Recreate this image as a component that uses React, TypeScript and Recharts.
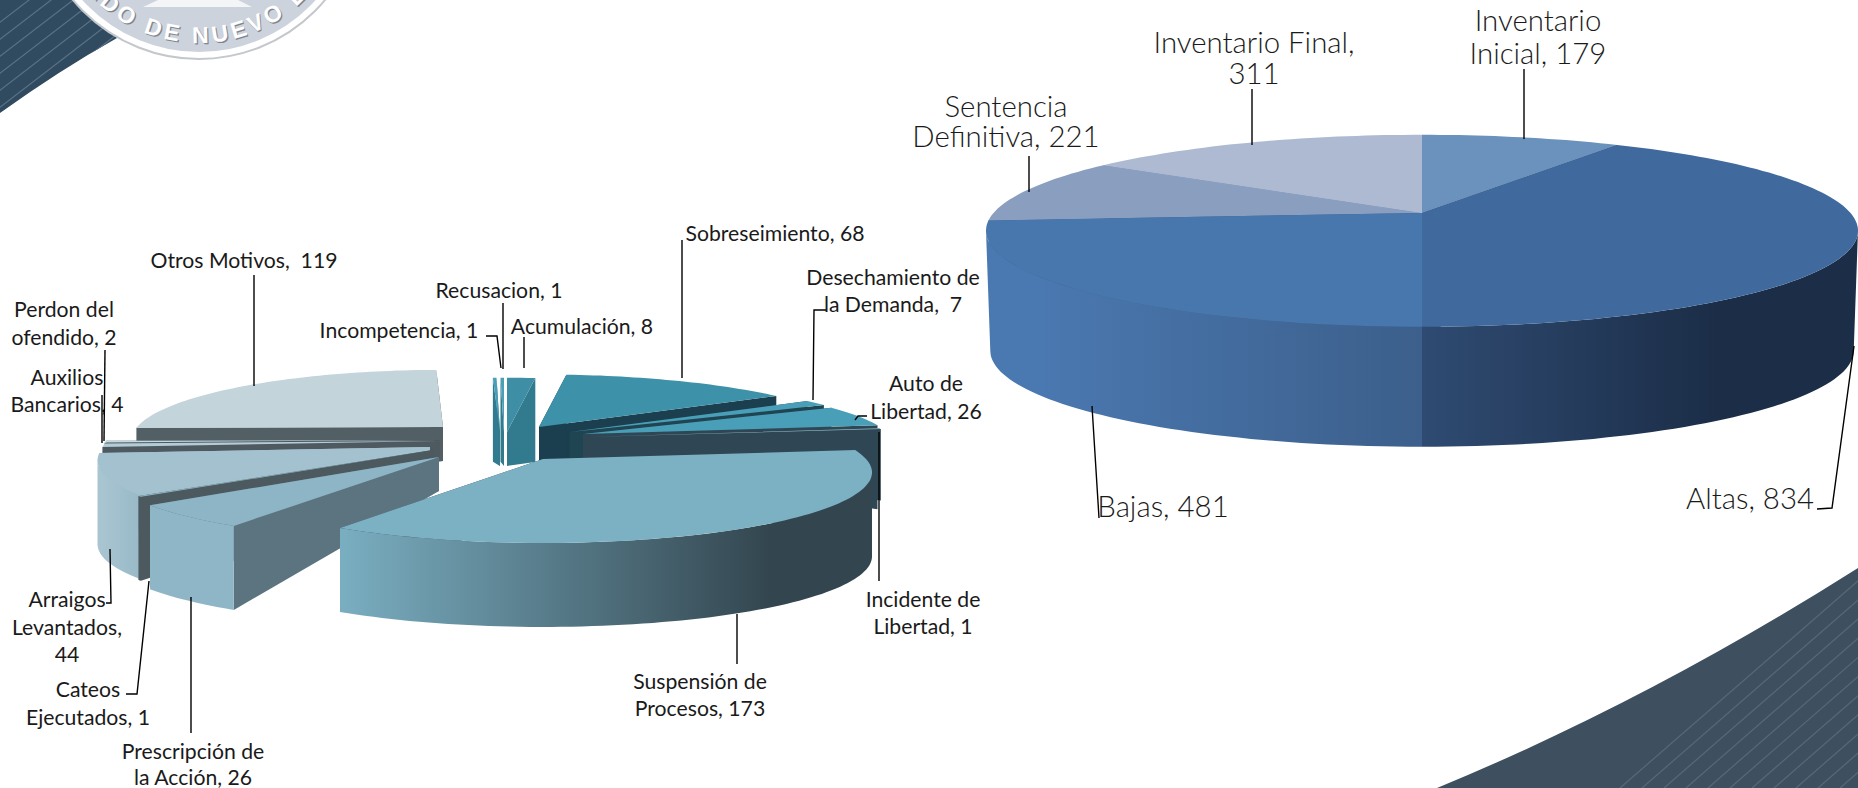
import React from "react";
import { PieChart, Pie } from "recharts";

const W = 1858;
const H = 788;

// ---------- data ----------
const bajasCategories = [
  "Acumulación", "Sobreseimiento", "Desechamiento de la Demanda", "Auto de Libertad",
  "Incidente de Libertad", "Suspensión de Procesos", "Prescripción de la Acción",
  "Cateos Ejecutados", "Arraigos Levantados", "Auxilios Bancarios", "Perdon del ofendido",
  "Otros Motivos", "Incompetencia", "Recusacion",
];
const bajasValues = [8, 68, 7, 26, 1, 173, 26, 1, 44, 4, 2, 119, 1, 1];
const bajasLabels = [
  ["Acumulación, 8"], ["Sobreseimiento, 68"], ["Desechamiento de", "la Demanda,  7"],
  ["Auto de", "Libertad, 26"], ["Incidente de", "Libertad, 1"], ["Suspensión de", "Procesos, 173"],
  ["Prescripción de", "la Acción, 26"], ["Cateos", "Ejecutados, 1"], ["Arraigos", "Levantados,", "44"],
  ["Auxilios", "Bancarios, 4"], ["Perdon del", "ofendido, 2"], ["Otros Motivos,  119"],
  ["Incompetencia, 1"], ["Recusacion, 1"],
];

const inventarioCategories = ["Inventario Inicial", "Altas", "Bajas", "Sentencia Definitiva", "Inventario Final"];
const inventarioValues = [179, 834, 481, 221, 311];
const inventarioLabels = [
  ["Inventario", "Inicial, 179"], ["Altas, 834"], ["Bajas, 481"], ["Sentencia", "Definitiva, 221"],
  ["Inventario Final,", "311"],
];

const bajasData = bajasCategories.map((name, i) => ({ name, value: bajasValues[i] }));
const inventarioData = inventarioCategories.map((name, i) => ({ name, value: inventarioValues[i] }));

// ---------- presentation tables (not data) ----------
type SliceStyle = {
  top: string; edge: string; wall: string | [string, string, number, number];
  ox?: number; oy?: number; rs?: number; ys?: number; ds?: number;
};
type LabelStyle = { x: number; y: number[]; line: number[][] };
type Geometry = { k: number; A: number; d0: number; d1: number; bs: number; id: string };

const leftGeo: Geometry = { k: 0.19, A: 68, d0: 34, d1: 84, bs: 1, id: "l" };
const rightGeo: Geometry = { k: 0.185, A: 92.7, d0: 120, d1: 120, bs: 0.99, id: "r" };

const LCX = 455;
const LCY = 440;
const leftStyles: SliceStyle[] = [
  { top: "#3e8ea6", edge: "#327a8d", wall: "#327a8d", ox: 52, oy: -8, rs: 0.95 },
  { top: "#3d91a8", edge: "#1b3f4f", wall: "#1b3f4f", ox: 84, oy: -13, rs: 0.92 },
  { top: "#4a9fb8", edge: "#1f4452", wall: "#1f4452", ox: 115, oy: -8, rs: 0.92 },
  { top: "#4a9fb8", edge: "#2f4754", wall: "#2f4754", ox: 128, oy: -6, rs: 0.9 },
  { top: "#8fb9c8", edge: "#2f4754", wall: "#2f4754", ox: 130, oy: -3, rs: 0.9, ds: 0.85 },
  { top: "#7cb0c3", edge: "#33464f", wall: ["#79adc0", "#33464f", 345, 770], ox: 88, oy: 19, rs: 0.95, ys: 1 },
  { top: "#8db5c6", edge: "#5c7480", wall: "#8fb6c7", ox: -16, oy: 17, rs: 0.96, ys: 1 },
  { top: "#8db5c6", edge: "#4c5a60", wall: "#4c5a60", ox: -22, oy: 10, rs: 0.97 },
  { top: "#a3c1cf", edge: "#a3c1cf", wall: ["#a9c5d1", "#97b8c7", 100, 145], ox: -25, oy: 7, rs: 0.96, ys: 1 },
  { top: "#b3cdd8", edge: "#4e5a60", wall: "#4e5a60", ox: -15, oy: 1, rs: 0.98, ds: 0.5 },
  { top: "#c3d8e0", edge: "#4e5a60", wall: "#4e5a60", ox: -15, oy: 0, rs: 0.98, ds: 0.5 },
  { top: "#c3d4db", edge: "#525f65", wall: "#525f65", ox: -12, oy: -13, rs: 0.9, ys: 1 },
  { top: "#4a9fb8", edge: "#327a8d", wall: "#327a8d", ox: 45, oy: -8, rs: 0.95 },
  { top: "#4a9fb8", edge: "#327a8d", wall: "#327a8d", ox: 49, oy: -8, rs: 0.95 },
];
const leftOrder = [12, 13, 0, 1, 2, 3, 4, 11, 10, 9, 8, 7, 6, 5];
const leftLabelStyles: LabelStyle[] = [
  { x: 582, y: [326], line: [[524, 337], [524, 368]] },
  { x: 775, y: [233], line: [[682, 240], [682, 378]] },
  { x: 893, y: [277, 304], line: [[826, 310], [814, 310], [813, 400]] },
  { x: 926, y: [383, 411], line: [[867, 416], [858, 416], [855, 420]] },
  { x: 923, y: [599, 626], line: [[879, 432], [879, 581]] },
  { x: 700, y: [681, 708], line: [[737, 614], [737, 664]] },
  { x: 193, y: [751, 777], line: [[191, 597], [191, 733]] },
  { x: 88, y: [689, 717], line: [[126, 694], [137, 694], [149, 581]] },
  { x: 67, y: [599, 627, 654], line: [[110, 549], [111, 603], [106, 603]] },
  { x: 67, y: [377, 404], line: [[102, 395], [102, 443]] },
  { x: 64, y: [309, 337], line: [[105, 350], [104, 441]] },
  { x: 244, y: [260], line: [[254, 275], [254, 386]] },
  { x: 399, y: [330], line: [[486, 336], [497, 336], [501, 368]] },
  { x: 499, y: [290], line: [[503, 303], [503, 369]] },
];

const RCX = 1422;
const RCY = 213;
const rightStyles: SliceStyle[] = [
  { top: "#6b91bd", edge: "#6b91bd", wall: "#6b91bd" },
  { top: "#406a9d", edge: "#2f4a70", wall: ["#2f4b72", "#1b2d47", 1422, 1720] },
  { top: "#4877ae", edge: "#3c5f8b", wall: ["#4a78b0", "#3c5f8b", 1040, 1422] },
  { top: "#8a9fc0", edge: "#8a9fc0", wall: "#8a9fc0" },
  { top: "#adbad2", edge: "#adbad2", wall: "#adbad2" },
];
const rightLabelStyles: LabelStyle[] = [
  { x: 1538, y: [19, 52], line: [[1524, 69], [1524, 139]] },
  { x: 1750, y: [497], line: [[1854, 346], [1832, 508], [1817, 509]] },
  { x: 1163, y: [505], line: [[1092, 406], [1099, 518]] },
  { x: 1006, y: [105, 135], line: [[1029, 156], [1029, 192]] },
  { x: 1254, y: [41, 72], line: [[1252, 89], [1252, 145]] },
];

// ---------- custom 3-D sector drawn from the angles the Pie computed ----------
const RAD = Math.PI / 180;
function sectorShape(geo: Geometry, st: SliceStyle, index: number, p: any) {
  const ax = p.cx + (st.ox ?? 0);
  const ay = p.cy + (st.oy ?? 0);
  const R = p.outerRadius * (st.rs ?? 1);
  const ds = st.ds ?? 1;
  const yScale = st.ys ?? st.rs ?? 1;
  const pt = (deg: number) => {
    const u = Math.cos(deg * RAD);
    const v = Math.sin(deg * RAD);
    const w = 1 + geo.k * v;
    return [ax + (R * u) / w, ay - (geo.A * yScale * v) / w];
  };
  const sample = (a: number, b: number) => {
    const n = Math.max(2, Math.ceil((b - a) / 1.5));
    const out: number[][] = [];
    for (let i = 0; i <= n; i++) out.push(pt(a + ((b - a) * i) / n));
    return out;
  };
  const lo = Math.min(p.startAngle, p.endAngle);
  const hi = Math.max(p.startAngle, p.endAngle);
  const rim = sample(lo, hi);
  const down = (q: number[], d: number) => [ax + (q[0] - ax) * geo.bs, q[1] + d * ds];
  const toPath = (pts: number[][]) => "M" + pts.map((q) => q[0].toFixed(1) + " " + q[1].toFixed(1)).join("L") + "Z";
  const apex = [ax, ay];
  const apexB = down(apex, geo.d0);
  const last = rim[rim.length - 1];
  const edgeA = [apex, rim[0], down(rim[0], geo.d1), apexB];
  const edgeB = [apex, last, down(last, geo.d1), apexB];
  // only the part of the rim that faces the viewer gets an outer wall
  const beta = Math.asin(geo.k) / RAD;
  const vLo = Math.max(lo, -180 + beta);
  const vHi = Math.min(hi, -beta);
  const front = vHi > vLo ? sample(vLo, vHi) : [];
  const wallPts = [...front, ...front.slice().reverse().map((q) => down(q, geo.d1))];
  const gid = `wall-${geo.id}-${index}`;
  const grad = Array.isArray(st.wall) ? st.wall : null;
  return (
    <g>
      {grad && (
        <defs>
          <linearGradient id={gid} gradientUnits="userSpaceOnUse" x1={grad[2]} x2={grad[3]} y1={0} y2={0}>
            <stop offset="0" stopColor={grad[0]} />
            <stop offset="1" stopColor={grad[1]} />
          </linearGradient>
        </defs>
      )}
      <path d={toPath(edgeA)} fill={st.edge} />
      <path d={toPath(edgeB)} fill={st.edge} />
      {front.length > 0 && <path d={toPath(wallPts)} fill={grad ? `url(#${gid})` : (st.wall as string)} />}
      <path d={toPath([apex, ...rim])} fill={st.top} />
    </g>
  );
}

function makeLabel(lines: string[][], styles: LabelStyle[], font: any, names: string[]) {
  return (p: any) => {
    const i = names.indexOf(p.name);
    const s = styles[i];
    return (
      <g key={p.name}>
        <polyline points={s.line.map((q) => q.join(",")).join(" ")} fill="none" stroke="#000" strokeWidth={1.4} />
        {lines[i].map((t, j) => (
          <text key={j} x={s.x} y={s.y[j]} textAnchor="middle" dominantBaseline="central" fill="#1a1a1a" style={{ whiteSpace: "pre" }} {...font}>
            {t}
          </text>
        ))}
      </g>
    );
  };
}

function layeredPies(
  data: { name: string; value: number }[], names: string[], order: number[], styles: SliceStyle[],
  geo: Geometry, cx: number, cy: number, R: number, label: any,
) {
  const common = {
    data, dataKey: "value", nameKey: "name", cx, cy, outerRadius: R, innerRadius: 0,
    startAngle: 90, endAngle: -270, isAnimationActive: false, stroke: "none",
  };
  return [
    ...order.map((idx) => (
      <Pie
        key={idx}
        {...common}
        legendType="none"
        shape={(p: any) => (names.indexOf(p.name) === idx ? sectorShape(geo, styles[idx], idx, p) : <g />)}
      />
    )),
    <Pie key="labels" {...common} legendType="none" shape={() => <g />} label={label} labelLine={false} />,
  ];
}

function Backdrop() {
  const leftStripes = [];
  for (let i = 0; i < 8; i++) {
    leftStripes.push(<line key={i} x1={-10} y1={30 + i * 17} x2={120} y2={-70 + i * 17} stroke="#5a7186" strokeWidth={1.2} />);
  }
  const rightStripes = [];
  for (let i = 0; i < 14; i++) {
    const x0 = 1620 + i * 22;
    rightStripes.push(<line key={i} x1={x0} y1={788} x2={x0 + 400} y2={440} stroke="#566878" strokeWidth={1.3} />);
  }
  const sealFont = { fontFamily: "Liberation Sans", fontWeight: 700, fontSize: 23, letterSpacing: 4 };
  return (
    <svg width={W} height={H} style={{ position: "absolute", left: 0, top: 0 }}>
      <defs>
        <clipPath id="sw1"><path d="M0 0L125 0L117 38Q60 70 0 113Z" /></clipPath>
        <clipPath id="sw2"><path d="M1437 788Q1650 700 1858 568L1858 788Z" /></clipPath>
        <path id="sealArc" d="M51 -105A148 148 0 0 0 347 -105" />
      </defs>
      <path d="M0 0L125 0L117 38Q60 70 0 113Z" fill="#304a60" />
      <g clipPath="url(#sw1)">{leftStripes}</g>
      <path d="M1437 788Q1650 700 1858 568L1858 788Z" fill="#3e4f5f" />
      <g clipPath="url(#sw2)">{rightStripes}</g>
      <circle cx={199} cy={-105} r={164} fill="#fff" stroke="#c4c8cd" strokeWidth={2} />
      <circle cx={199} cy={-105} r={157} fill="#cdd3dc" />
      <path d="M143 7L158 0L238 0L252 7Z" fill="#f4f5f7" />
      <text fill="#7f858d" transform="translate(1.2,1.2)" {...sealFont} aria-hidden="true">
        <textPath href="#sealArc" startOffset="50%" textAnchor="middle">ESTADO DE NUEVO LEON</textPath>
      </text>
      <text fill="#fff" {...sealFont}>
        <textPath href="#sealArc" startOffset="50%" textAnchor="middle">ESTADO DE NUEVO LEON</textPath>
      </text>
    </svg>
  );
}

export default function App() {
  const leftFont = { fontFamily: "Lato", fontSize: 21.2 };
  const rightFont = { fontFamily: "Lato", fontSize: 29.4, fontWeight: 300 };
  return (
    <div style={{ position: "absolute", left: 0, top: 0, width: W, height: H, background: "#fff", overflow: "hidden" }}>
      <Backdrop />
      <div style={{ position: "absolute", left: 0, top: 0 }}>
        <PieChart width={W} height={H} margin={{ top: 0, right: 0, bottom: 0, left: 0 }}>
          {layeredPies(bajasData, bajasCategories, leftOrder, leftStyles, leftGeo, LCX, LCY, 340,
            makeLabel(bajasLabels, leftLabelStyles, leftFont, bajasCategories))}
        </PieChart>
      </div>
      <div style={{ position: "absolute", left: 0, top: 0 }}>
        <PieChart width={W} height={H} margin={{ top: 0, right: 0, bottom: 0, left: 0 }}>
          {layeredPies(inventarioData, inventarioCategories, [0, 4, 3, 2, 1], rightStyles, rightGeo, RCX, RCY, 428.5,
            makeLabel(inventarioLabels, rightLabelStyles, rightFont, inventarioCategories))}
        </PieChart>
      </div>
    </div>
  );
}
